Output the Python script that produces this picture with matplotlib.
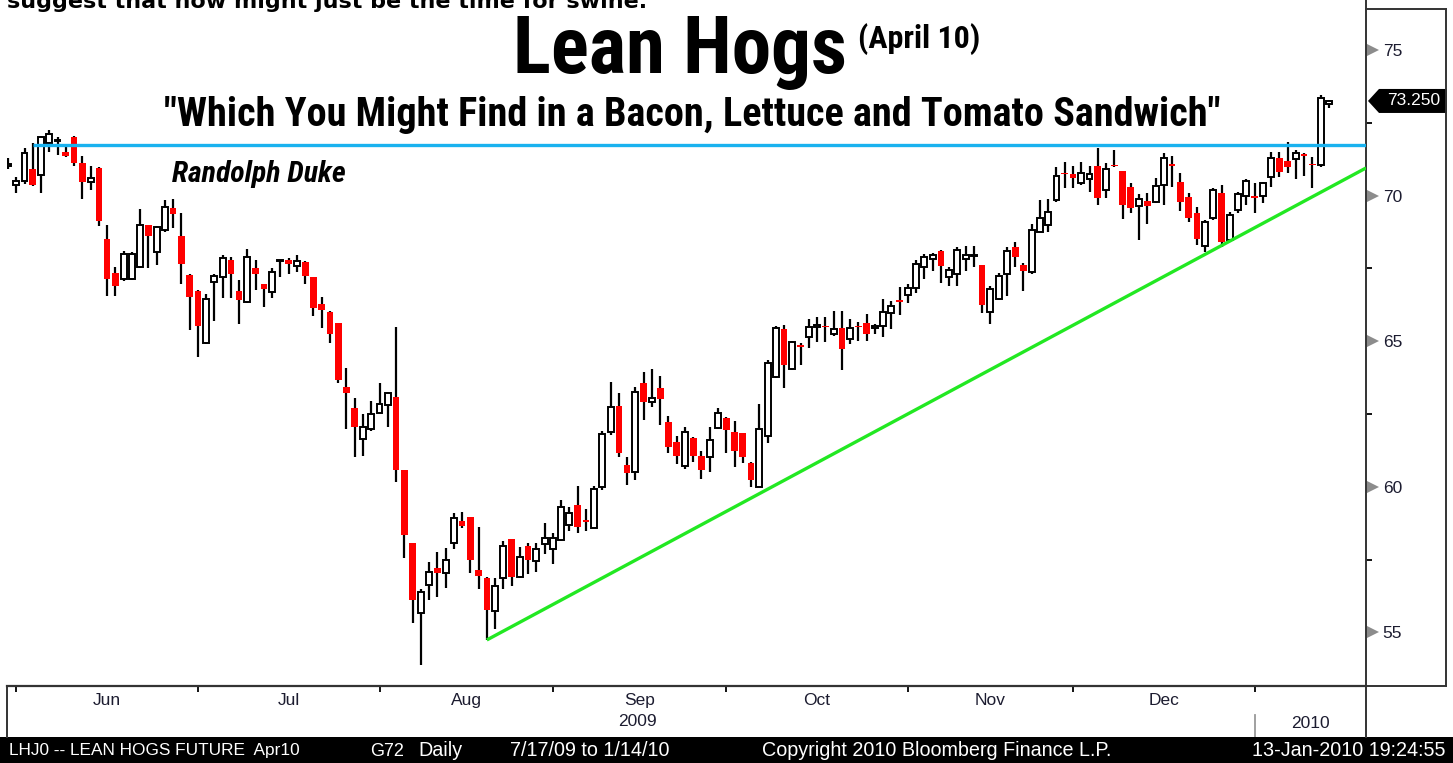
import matplotlib
matplotlib.use("Agg")
import matplotlib.pyplot as plt
import matplotlib.transforms as mtransforms
from matplotlib.patches import Rectangle, Polygon
from matplotlib.lines import Line2D
import numpy as np

# ---------------- data ----------------
opens = [71.0, 70.35, 70.5, 70.9, 70.7, 71.8, 71.88, 71.5, 72.0, 71.13,
         70.48, 70.95, 68.5, 67.33, 67.13, 67.15, 67.55, 69.0, 68.05, 68.82,
         69.56, 68.6, 67.27, 66.72, 64.95, 67.02, 67.19, 67.8, 66.72, 66.36,
         67.5, 66.95, 66.7, 67.75, 67.79, 67.59, 67.73, 67.22, 66.28, 66.01,
         65.61, 63.44, 62.72, 61.63, 61.98, 62.55, 62.81, 63.1, 60.56, 58.06,
         55.68, 56.63, 57.2, 57.03, 58.08, 58.83, 58.95, 57.14, 56.88, 55.73,
         56.86, 58.21, 56.89, 57.98, 57.46, 58.03, 57.85, 58.17, 58.69, 59.37,
         58.82, 58.57, 60.0, 61.89, 62.77, 60.75, 60.52, 63.55, 62.92, 63.38,
         62.22, 61.55, 60.71, 61.67, 61.06, 61.03, 62.03, 62.37, 61.87, 61.84,
         60.83, 60.0, 61.74, 63.78, 65.41, 64.03, 64.83, 65.13, 65.48, 65.5,
         65.24, 65.44, 65.08, 65.5, 65.61, 65.46, 65.52, 65.98, 66.38, 66.59,
         66.82, 67.54, 67.81, 68.11, 67.22, 67.31, 67.81, 67.93, 67.62, 66.01,
         66.44, 67.31, 68.22, 67.62, 67.39, 68.76, 68.99, 69.85, 70.75, 70.73,
         70.42, 70.57, 71.02, 70.19, 71.03, 70.84, 70.28, 69.64, 69.82, 69.79,
         70.36, 71.05, 70.46, 69.94, 69.39, 68.28, 69.22, 70.1, 68.48, 69.51,
         69.99, 70.0, 69.99, 70.65, 71.28, 71.19, 71.26, 71.43, 71.07, 71.05,
         73.15]
highs = [71.3, 70.65, 71.65, 71.8, 72.05, 72.25, 72.0, 71.68, 72.05, 71.35,
         71.0, 70.97, 69.0, 67.55, 68.1, 68.05, 69.55, 69.0, 68.95, 69.85,
         69.9, 69.4, 67.3, 66.75, 66.62, 67.31, 67.96, 67.9, 67.1, 68.17,
         67.8, 66.97, 67.5, 67.78, 67.85, 67.96, 67.75, 67.22, 66.53, 66.03,
         65.62, 64.07, 63.04, 62.5, 62.93, 63.55, 63.27, 65.5, 60.58, 58.06,
         56.48, 57.43, 57.77, 57.89, 59.09, 59.15, 58.97, 58.61, 56.9, 56.86,
         58.15, 58.22, 57.92, 58.06, 58.08, 58.77, 58.43, 59.55, 59.32, 60.03,
         59.24, 60.03, 61.93, 63.61, 63.21, 61.03, 63.44, 63.93, 64.04, 63.82,
         62.43, 61.74, 62.06, 61.7, 61.23, 62.04, 62.7, 62.4, 62.26, 61.85,
         60.85, 62.83, 64.35, 65.52, 65.56, 65.0, 64.93, 65.76, 65.84, 65.83,
         66.05, 66.05, 65.76, 65.67, 65.93, 65.58, 66.44, 66.38, 66.87, 66.96,
         67.79, 67.99, 68.04, 68.12, 67.54, 68.25, 68.28, 68.27, 67.63, 66.9,
         67.34, 68.22, 68.4, 67.68, 69.01, 69.85, 69.87, 70.99, 71.17, 71.02,
         71.17, 71.02, 71.62, 71.11, 71.57, 70.86, 70.44, 70.04, 70.1, 70.61,
         71.45, 71.37, 70.77, 70.08, 69.62, 69.16, 70.25, 70.36, 69.45, 70.14,
         70.56, 70.42, 70.47, 71.51, 71.51, 71.85, 71.57, 71.45, 71.34, 73.45,
         73.27]
lows = [70.9, 70.1, 70.4, 70.33, 70.1, 71.5, 71.4, 71.33, 71.0, 69.9,
        70.2, 68.95, 66.55, 66.55, 67.05, 67.1, 67.5, 67.5, 67.6, 68.75,
        68.9, 66.96, 65.4, 64.47, 64.9, 65.7, 66.47, 66.5, 65.58, 66.3,
        66.76, 66.18, 66.47, 67.22, 67.31, 67.39, 66.96, 65.87, 65.44, 64.95,
        63.55, 62.0, 61.01, 61.06, 61.9, 62.52, 62.06, 60.18, 57.55, 55.31,
        53.88, 56.11, 56.23, 56.52, 57.85, 58.57, 57.03, 56.48, 54.74, 55.11,
        56.48, 56.6, 56.88, 57.0, 57.06, 57.68, 57.35, 58.15, 58.49, 58.4,
        58.49, 58.57, 59.89, 61.78, 61.01, 60.06, 60.23, 62.29, 62.75, 62.12,
        61.17, 60.78, 60.6, 60.86, 60.26, 60.52, 62.0, 61.15, 60.69, 60.81,
        60.0, 60.0, 61.52, 63.73, 63.4, 64.0, 64.18, 64.76, 64.98, 64.98,
        65.19, 64.01, 64.9, 65.02, 65.0, 65.24, 65.16, 65.41, 65.9, 66.3,
        66.64, 67.13, 67.42, 67.01, 66.91, 66.91, 67.42, 67.56, 65.96, 65.58,
        66.4, 66.56, 67.54, 66.74, 67.31, 68.76, 68.76, 69.79, 70.25, 70.25,
        70.36, 70.14, 69.68, 69.91, 70.97, 69.19, 69.39, 68.48, 69.02, 69.74,
        69.68, 70.31, 69.47, 69.1, 68.3, 68.07, 69.16, 68.25, 68.42, 69.39,
        69.68, 69.41, 69.75, 70.31, 70.63, 70.79, 70.56, 70.67, 70.25, 70.99,
        73.0]
closes = [71.08, 70.5, 71.45, 70.35, 72.0, 72.1, 71.92, 71.37, 71.13, 70.47,
          70.6, 69.14, 67.13, 66.9, 67.98, 68.0, 69.0, 68.6, 68.93, 69.6,
          69.36, 67.64, 66.53, 65.52, 66.44, 67.24, 67.85, 67.3, 66.41, 67.88,
          67.3, 66.79, 67.39, 67.77, 67.64, 67.77, 67.24, 66.13, 66.07, 65.25,
          63.67, 63.23, 62.06, 62.04, 62.5, 62.84, 63.23, 60.58, 58.35, 56.11,
          56.4, 57.09, 57.05, 57.49, 58.92, 58.65, 57.49, 56.94, 55.77, 56.59,
          57.98, 56.89, 57.6, 57.49, 57.86, 58.25, 58.25, 59.32, 59.09, 58.63,
          58.8, 59.92, 61.81, 62.75, 61.17, 60.46, 63.27, 62.9, 63.04, 63.01,
          61.35, 61.07, 61.87, 61.07, 60.58, 61.61, 62.55, 61.95, 61.24, 61.01,
          60.23, 61.97, 64.26, 65.44, 64.18, 64.98, 64.81, 65.48, 65.55, 65.48,
          65.42, 64.73, 65.44, 65.48, 65.24, 65.5, 65.99, 66.21, 66.36, 66.82,
          67.65, 67.88, 67.96, 67.58, 67.45, 68.13, 67.95, 67.95, 66.24, 66.78,
          67.24, 68.11, 67.9, 67.41, 68.82, 69.24, 69.45, 70.67, 70.73, 70.59,
          70.77, 70.73, 69.91, 70.9, 71.0, 69.68, 69.56, 69.87, 69.64, 70.33,
          71.28, 71.03, 69.79, 69.22, 68.5, 69.1, 70.19, 68.42, 69.33, 70.05,
          70.51, 69.91, 70.44, 71.28, 70.82, 70.97, 71.45, 71.36, 71.05, 73.34,
          73.25]

month_labels = ["Jun", "Jul", "Aug", "Sep", "Oct", "Nov", "Dec"]
month_start = [2, 24, 46, 67, 88, 110, 130, 152]   # first candle index of each month (Jun..Jan)
year_labels = ["2009", "2010"]

resistance_level = 71.74                 # blue horizontal line
resistance_from = 3                      # candle index where it starts
trend_x = [58, 164.5]                    # green rising support line (candle index)
trend_y = [54.74, 70.95]
last_price = 73.25

y_ticks = [55, 60, 65, 70, 75]
y_minor = [57.5, 62.5, 67.5, 72.5]

# ---------------- figure ----------------
W, H = 1453, 763
DPI = 100
fig = plt.figure(figsize=(W / DPI, H / DPI), dpi=DPI)
fig.patch.set_facecolor("white")


def fx(px):
    return px / W


def fy(py):  # py measured from top
    return 1 - py / H


TITLE_FONT = ["Roboto Condensed", "DejaVu Sans"]
AX_FONT = ["Liberation Sans", "DejaVu Sans"]

ax_left, ax_right, ax_top, ax_bottom = 7, 1366, 0, 686
ax = fig.add_axes([fx(ax_left), fy(ax_bottom), fx(ax_right - ax_left), (ax_bottom - ax_top) / H])
ax.set_facecolor("white")

n = len(opens)
idx = np.arange(n)
o = np.array(opens); h = np.array(highs); l = np.array(lows); c = np.array(closes)
up = c >= o

# wicks
ax.vlines(idx, l, h, color="black", linewidth=1.6, zorder=2)
# bodies
body_w = 0.72
min_h = 0.045
bottoms = np.minimum(o, c)
heights = np.maximum(np.abs(c - o), min_h)
ax.bar(idx[up], heights[up], bottom=bottoms[up], width=body_w,
       facecolor="white", edgecolor="black", linewidth=1.4, zorder=3)
ax.bar(idx[~up], heights[~up], bottom=bottoms[~up], width=body_w + 0.08,
       facecolor="#ff0000", edgecolor="none", linewidth=0, zorder=3)

# lines
xl = (-0.12, 164.49)
ax.plot([resistance_from, xl[1]], [resistance_level, resistance_level],
        color="#19b2ef", linewidth=2.4, zorder=4, solid_capstyle="butt")
ax.plot(trend_x, trend_y, color="#22e822", linewidth=2.4, zorder=4,
        solid_capstyle="butt")

ax.set_xlim(*xl)
ax.set_ylim(53.159, 76.717)

# spines
for s in ["left", "top"]:
    ax.spines[s].set_visible(False)
ax.spines["bottom"].set_color("#333333")
ax.spines["bottom"].set_linewidth(1.6)
ax.spines["right"].set_color("#333333")
ax.spines["right"].set_linewidth(1.4)

# x ticks: month boundaries (major) and month labels (minor)
bounds = [m - 1 for m in month_start]
ax.set_xticks(bounds)
ax.set_xticklabels([""] * len(bounds))
centers = [(bounds[i] + bounds[i + 1]) / 2 for i in range(len(month_labels))]
ax.set_xticks(centers, minor=True)
ax.set_xticklabels(month_labels, minor=True)
ax.tick_params(axis="x", which="major", direction="out", length=4, width=1.3, color="black")
ax.tick_params(axis="x", which="minor", length=0, pad=5, labelsize=12.5, labelcolor="#1c1c30")
for t in ax.get_xticklabels(minor=True):
    t.set_family(AX_FONT)

# y ticks on right
ax.yaxis.tick_right()
ax.set_yticks(y_ticks)
ax.set_yticklabels([str(v) for v in y_ticks])
ax.set_yticks(y_minor, minor=True)
ax.tick_params(axis="y", which="major", length=0, pad=12, labelsize=12.5, labelcolor="#1c1c30")
ax.tick_params(axis="y", which="minor", direction="out", length=4, width=1.3, color="black")
for t in ax.get_yticklabels():
    t.set_family(AX_FONT)

# gray triangle markers at the major ticks
tri_trans = mtransforms.blended_transform_factory(ax.transAxes, ax.transData)
ax.plot([1.0 + 7 / (ax_right - ax_left)] * len(y_ticks), y_ticks, linestyle="none",
        marker=">", markersize=9, color="#8c8c8c", markeredgewidth=0,
        transform=tri_trans, clip_on=False, zorder=5)

# year labels
xa_trans = mtransforms.blended_transform_factory(ax.transData, ax.transAxes)
ax.annotate(year_labels[0], xy=(76.3, 0), xycoords=xa_trans, xytext=(0, -36),
            textcoords="offset pixels", ha="center", va="center", fontsize=12.5,
            color="#1c1c30", family=AX_FONT, annotation_clip=False)
ax.annotate(year_labels[1], xy=((bounds[-1] + xl[1]) / 2, 0), xycoords=xa_trans,
            xytext=(0, -38), textcoords="offset pixels", ha="center", va="center",
            fontsize=12.5, color="#1c1c30", family=AX_FONT, annotation_clip=False)
# separator in the year row
sep = Line2D([bounds[-1], bounds[-1]], [-(715 - 686) / 686, -(737 - 686) / 686],
             transform=xa_trans, color="#999999", linewidth=1.3, clip_on=False)
ax.add_line(sep)

# ---------------- frames (figure level) ----------------
def fline(x0, y0, x1, y1, color="#333333", lw=1.4):
    fig.add_artist(Line2D([fx(x0), fx(x1)], [fy(y0), fy(y1)], color=color, linewidth=lw,
                          transform=fig.transFigure))

# right price panel frame
fline(1366, 9, 1446, 9)
fline(1446, 9, 1446, 686)
fline(1366, 686, 1446, 686)
# x-axis region frame
fline(7, 686, 7, 737)
fline(1366, 686, 1366, 737)

# footer bar
fig.add_artist(Rectangle((0, 0), 1, fy(737), transform=fig.transFigure,
                         facecolor="black", edgecolor="none"))
FS = 14.2
fig.text(fx(9), fy(751), "LHJ0 -- LEAN HOGS FUTURE  Apr10", color="white",
         fontsize=12.4, family=AX_FONT, va="center", ha="left")
fig.text(fx(370), fy(751), "G72", color="white", fontsize=13, family=AX_FONT,
         va="center", ha="left")
fig.text(fx(418), fy(751), "Daily", color="white", fontsize=FS,
         family=AX_FONT, va="center", ha="left")
fig.text(fx(510), fy(751), "7/17/09 to 1/14/10", color="white", fontsize=FS,
         family=AX_FONT, va="center", ha="left")
fig.text(fx(937), fy(751), "Copyright 2010 Bloomberg Finance L.P.", color="white",
         fontsize=FS, family=AX_FONT, va="center", ha="center")
fig.text(fx(1445), fy(751), "13-Jan-2010 19:24:55", color="white", fontsize=FS,
         family=AX_FONT, va="center", ha="right")

# last price tag
fig.canvas.draw()
ypix = ax.transData.transform((0, last_price))[1]
x0p, x1p = 1368, 1447
hh = 12
tag = Polygon([[x0p, ypix], [x0p + 11, ypix + hh], [x1p, ypix + hh], [x1p, ypix - hh],
               [x0p + 11, ypix - hh]], closed=True, facecolor="black", edgecolor="none",
              transform=None)
fig.add_artist(tag)
fig.text((x0p + 12 + x1p) / 2 / W, ypix / H, f"{last_price:.3f}", color="white",
         fontsize=12.5, family=AX_FONT, ha="center", va="center")

# ---------------- titles ----------------
fig.text(fx(7), fy(7.5), "suggest that now might just be the time for swine.",
         fontsize=16, fontweight="bold", family=["DejaVu Sans"], ha="left", va="baseline")
fig.text(fx(680), fy(73), "Lean Hogs", fontsize=57, fontweight="bold",
         family=TITLE_FONT, ha="center", va="baseline")
fig.text(fx(858), fy(48), "(April 10)", fontsize=23, fontweight="bold",
         family=TITLE_FONT, ha="left", va="baseline")
fig.text(fx(692), fy(126), '"Which You Might Find in a Bacon, Lettuce and Tomato Sandwich"',
         fontsize=29, fontweight="bold", family=TITLE_FONT, ha="center", va="baseline")
fig.text(fx(172), fy(182), "Randolph Duke", fontsize=21.5, fontweight="bold",
         fontstyle="italic", family=TITLE_FONT, ha="left", va="baseline")

fig.savefig("out.png", dpi=DPI, facecolor="white")
